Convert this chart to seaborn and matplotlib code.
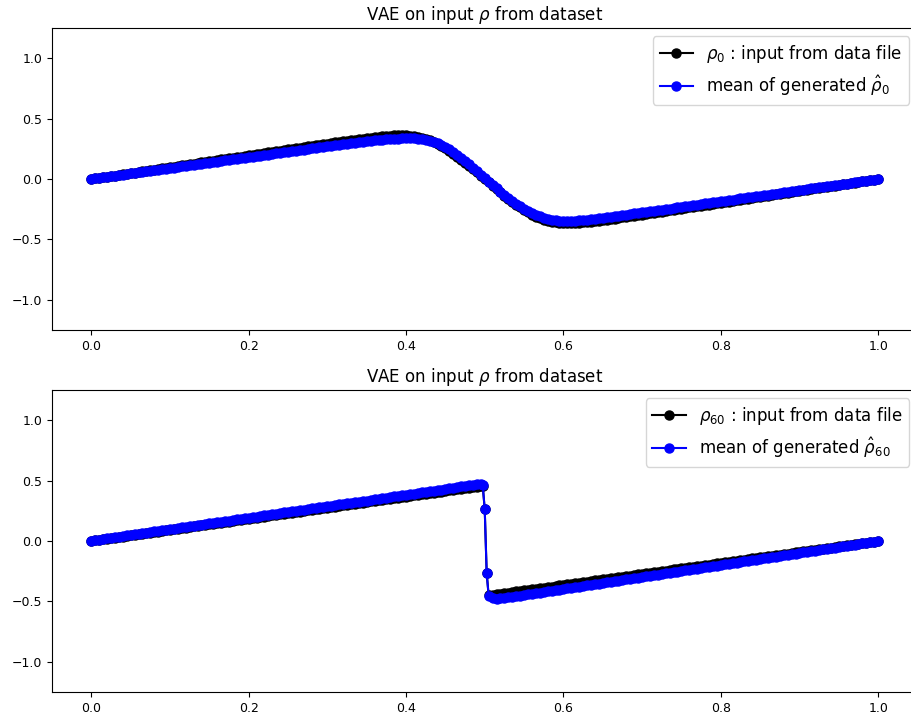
import matplotlib
matplotlib.use('Agg')
import matplotlib.pyplot as plt
import seaborn as sns

## Data (x grid, input rho, mean of generated rho)
x_top = [
    0.000, 0.005, 0.010, 0.015, 0.020, 0.025, 0.030, 0.035, 0.040, 0.045,
    0.050, 0.055, 0.060, 0.065, 0.070, 0.075, 0.080, 0.085, 0.090, 0.095,
    0.100, 0.105, 0.110, 0.115, 0.120, 0.125, 0.130, 0.135, 0.140, 0.145,
    0.150, 0.155, 0.160, 0.165, 0.170, 0.175, 0.180, 0.185, 0.190, 0.195,
    0.200, 0.205, 0.210, 0.215, 0.220, 0.225, 0.230, 0.235, 0.240, 0.245,
    0.250, 0.255, 0.260, 0.265, 0.270, 0.275, 0.280, 0.285, 0.290, 0.295,
    0.300, 0.305, 0.310, 0.315, 0.320, 0.325, 0.330, 0.335, 0.340, 0.345,
    0.350, 0.355, 0.360, 0.365, 0.370, 0.375, 0.380, 0.385, 0.390, 0.395,
    0.400, 0.405, 0.410, 0.415, 0.420, 0.425, 0.430, 0.435, 0.440, 0.445,
    0.450, 0.455, 0.460, 0.465, 0.470, 0.475, 0.480, 0.485, 0.490, 0.495,
    0.500, 0.505, 0.510, 0.515, 0.520, 0.525, 0.530, 0.535, 0.540, 0.545,
    0.550, 0.555, 0.560, 0.565, 0.570, 0.575, 0.580, 0.585, 0.590, 0.595,
    0.600, 0.605, 0.610, 0.615, 0.620, 0.625, 0.630, 0.635, 0.640, 0.645,
    0.650, 0.655, 0.660, 0.665, 0.670, 0.675, 0.680, 0.685, 0.690, 0.695,
    0.700, 0.705, 0.710, 0.715, 0.720, 0.725, 0.730, 0.735, 0.740, 0.745,
    0.750, 0.755, 0.760, 0.765, 0.770, 0.775, 0.780, 0.785, 0.790, 0.795,
    0.800, 0.805, 0.810, 0.815, 0.820, 0.825, 0.830, 0.835, 0.840, 0.845,
    0.850, 0.855, 0.860, 0.865, 0.870, 0.875, 0.880, 0.885, 0.890, 0.895,
    0.900, 0.905, 0.910, 0.915, 0.920, 0.925, 0.930, 0.935, 0.940, 0.945,
    0.950, 0.955, 0.960, 0.965, 0.970, 0.975, 0.980, 0.985, 0.990, 0.995,
    1.000]

rho0_input = [
    0.000, 0.005, 0.010, 0.015, 0.020, 0.025, 0.029, 0.034, 0.039, 0.044,
    0.049, 0.054, 0.059, 0.064, 0.069, 0.074, 0.078, 0.083, 0.088, 0.093,
    0.098, 0.103, 0.108, 0.113, 0.118, 0.123, 0.127, 0.132, 0.137, 0.142,
    0.147, 0.152, 0.157, 0.162, 0.167, 0.172, 0.176, 0.181, 0.186, 0.191,
    0.196, 0.201, 0.206, 0.211, 0.216, 0.221, 0.225, 0.230, 0.235, 0.240,
    0.245, 0.250, 0.255, 0.260, 0.265, 0.270, 0.274, 0.279, 0.284, 0.289,
    0.294, 0.299, 0.304, 0.309, 0.313, 0.318, 0.322, 0.327, 0.331, 0.335,
    0.339, 0.343, 0.347, 0.350, 0.353, 0.356, 0.359, 0.361, 0.362, 0.362,
    0.361, 0.359, 0.355, 0.350, 0.343, 0.334, 0.322, 0.308, 0.292, 0.274,
    0.254, 0.233, 0.210, 0.186, 0.161, 0.136, 0.110, 0.083, 0.056, 0.028,
    0.000, -0.028, -0.056, -0.083, -0.110, -0.137, -0.162, -0.187, -0.211, -0.234,
    -0.256, -0.276, -0.294, -0.311, -0.325, -0.337, -0.347, -0.354, -0.359, -0.363,
    -0.365, -0.365, -0.364, -0.362, -0.360, -0.358, -0.355, -0.352, -0.349, -0.346,
    -0.342, -0.338, -0.333, -0.328, -0.323, -0.318, -0.314, -0.309, -0.304, -0.299,
    -0.294, -0.289, -0.284, -0.279, -0.274, -0.270, -0.265, -0.260, -0.255, -0.250,
    -0.245, -0.240, -0.235, -0.230, -0.225, -0.221, -0.216, -0.211, -0.206, -0.201,
    -0.196, -0.191, -0.186, -0.181, -0.176, -0.172, -0.167, -0.162, -0.157, -0.152,
    -0.147, -0.142, -0.137, -0.132, -0.127, -0.123, -0.118, -0.113, -0.108, -0.103,
    -0.098, -0.093, -0.088, -0.083, -0.078, -0.074, -0.069, -0.064, -0.059, -0.054,
    -0.049, -0.044, -0.039, -0.034, -0.029, -0.025, -0.020, -0.015, -0.010, -0.005,
    0.000]

rho0_generated = [
    0.002, 0.006, 0.010, 0.014, 0.019, 0.023, 0.028, 0.032, 0.037, 0.041,
    0.046, 0.050, 0.055, 0.059, 0.064, 0.068, 0.073, 0.077, 0.082, 0.086,
    0.091, 0.095, 0.100, 0.104, 0.109, 0.113, 0.118, 0.122, 0.127, 0.131,
    0.136, 0.140, 0.145, 0.149, 0.154, 0.158, 0.163, 0.167, 0.172, 0.176,
    0.181, 0.185, 0.190, 0.194, 0.199, 0.203, 0.208, 0.212, 0.217, 0.221,
    0.226, 0.230, 0.235, 0.239, 0.244, 0.248, 0.253, 0.257, 0.262, 0.266,
    0.271, 0.275, 0.280, 0.284, 0.288, 0.292, 0.296, 0.300, 0.304, 0.308,
    0.312, 0.315, 0.319, 0.322, 0.325, 0.328, 0.331, 0.333, 0.335, 0.337,
    0.338, 0.338, 0.337, 0.335, 0.331, 0.325, 0.317, 0.307, 0.295, 0.281,
    0.265, 0.246, 0.225, 0.202, 0.177, 0.150, 0.123, 0.095, 0.066, 0.037,
    0.008, -0.021, -0.050, -0.078, -0.105, -0.131, -0.156, -0.180, -0.203, -0.225,
    -0.245, -0.264, -0.281, -0.296, -0.309, -0.320, -0.329, -0.336, -0.341, -0.344,
    -0.346, -0.346, -0.345, -0.344, -0.342, -0.339, -0.336, -0.333, -0.330, -0.326,
    -0.322, -0.317, -0.313, -0.308, -0.304, -0.299, -0.294, -0.290, -0.285, -0.281,
    -0.276, -0.271, -0.267, -0.262, -0.258, -0.253, -0.248, -0.244, -0.239, -0.235,
    -0.230, -0.225, -0.221, -0.216, -0.212, -0.207, -0.202, -0.198, -0.193, -0.189,
    -0.184, -0.179, -0.175, -0.170, -0.166, -0.161, -0.156, -0.152, -0.147, -0.143,
    -0.138, -0.133, -0.129, -0.124, -0.120, -0.115, -0.110, -0.106, -0.101, -0.097,
    -0.092, -0.087, -0.083, -0.078, -0.074, -0.069, -0.064, -0.060, -0.055, -0.051,
    -0.046, -0.041, -0.037, -0.032, -0.028, -0.023, -0.018, -0.014, -0.009, -0.005,
    0.000]

x_bot = [
    0.000, 0.005, 0.010, 0.015, 0.020, 0.025, 0.030, 0.035, 0.040, 0.045,
    0.050, 0.055, 0.060, 0.065, 0.070, 0.075, 0.080, 0.085, 0.090, 0.095,
    0.100, 0.105, 0.110, 0.115, 0.120, 0.125, 0.130, 0.135, 0.140, 0.145,
    0.150, 0.155, 0.160, 0.165, 0.170, 0.175, 0.180, 0.185, 0.190, 0.195,
    0.200, 0.205, 0.210, 0.215, 0.220, 0.225, 0.230, 0.235, 0.240, 0.245,
    0.250, 0.255, 0.260, 0.265, 0.270, 0.275, 0.280, 0.285, 0.290, 0.295,
    0.300, 0.305, 0.310, 0.315, 0.320, 0.325, 0.330, 0.335, 0.340, 0.345,
    0.350, 0.355, 0.360, 0.365, 0.370, 0.375, 0.380, 0.385, 0.390, 0.395,
    0.400, 0.405, 0.410, 0.415, 0.420, 0.425, 0.430, 0.435, 0.440, 0.445,
    0.450, 0.455, 0.460, 0.465, 0.470, 0.475, 0.480, 0.485, 0.490, 0.495, 0.4975,
    0.500, 0.5025, 0.505, 0.510, 0.515, 0.520, 0.525, 0.530, 0.535, 0.540, 0.545,
    0.550, 0.555, 0.560, 0.565, 0.570, 0.575, 0.580, 0.585, 0.590, 0.595,
    0.600, 0.605, 0.610, 0.615, 0.620, 0.625, 0.630, 0.635, 0.640, 0.645,
    0.650, 0.655, 0.660, 0.665, 0.670, 0.675, 0.680, 0.685, 0.690, 0.695,
    0.700, 0.705, 0.710, 0.715, 0.720, 0.725, 0.730, 0.735, 0.740, 0.745,
    0.750, 0.755, 0.760, 0.765, 0.770, 0.775, 0.780, 0.785, 0.790, 0.795,
    0.800, 0.805, 0.810, 0.815, 0.820, 0.825, 0.830, 0.835, 0.840, 0.845,
    0.850, 0.855, 0.860, 0.865, 0.870, 0.875, 0.880, 0.885, 0.890, 0.895,
    0.900, 0.905, 0.910, 0.915, 0.920, 0.925, 0.930, 0.935, 0.940, 0.945,
    0.950, 0.955, 0.960, 0.965, 0.970, 0.975, 0.980, 0.985, 0.990, 0.995,
    1.000]

rho60_input = [
    0.000, 0.005, 0.009, 0.014, 0.018, 0.023, 0.028, 0.032, 0.037, 0.041,
    0.046, 0.051, 0.055, 0.060, 0.064, 0.069, 0.074, 0.078, 0.083, 0.087,
    0.092, 0.097, 0.101, 0.106, 0.110, 0.115, 0.120, 0.124, 0.129, 0.133,
    0.138, 0.143, 0.147, 0.152, 0.156, 0.161, 0.166, 0.170, 0.175, 0.179,
    0.184, 0.189, 0.193, 0.198, 0.202, 0.207, 0.212, 0.216, 0.221, 0.225,
    0.230, 0.235, 0.239, 0.244, 0.248, 0.253, 0.258, 0.262, 0.267, 0.271,
    0.276, 0.281, 0.285, 0.290, 0.294, 0.299, 0.304, 0.308, 0.313, 0.317,
    0.322, 0.327, 0.331, 0.336, 0.340, 0.345, 0.350, 0.354, 0.359, 0.363,
    0.368, 0.373, 0.377, 0.382, 0.386, 0.391, 0.396, 0.400, 0.405, 0.409,
    0.414, 0.419, 0.423, 0.428, 0.432, 0.437, 0.441, 0.445, 0.449, 0.452, 0.453,
    0.262, -0.268, -0.450, -0.445, -0.441, -0.436, -0.432, -0.427, -0.423, -0.418, -0.414,
    -0.409, -0.405, -0.400, -0.395, -0.391, -0.386, -0.382, -0.377, -0.373, -0.368,
    -0.364, -0.359, -0.355, -0.350, -0.345, -0.341, -0.336, -0.332, -0.327, -0.323,
    -0.318, -0.314, -0.309, -0.305, -0.300, -0.295, -0.291, -0.286, -0.282, -0.277,
    -0.273, -0.268, -0.264, -0.259, -0.255, -0.250, -0.245, -0.241, -0.236, -0.232,
    -0.227, -0.223, -0.218, -0.214, -0.209, -0.205, -0.200, -0.195, -0.191, -0.186,
    -0.182, -0.177, -0.173, -0.168, -0.164, -0.159, -0.155, -0.150, -0.145, -0.141,
    -0.136, -0.132, -0.127, -0.123, -0.118, -0.114, -0.109, -0.105, -0.100, -0.095,
    -0.091, -0.086, -0.082, -0.077, -0.073, -0.068, -0.064, -0.059, -0.055, -0.050,
    -0.045, -0.041, -0.036, -0.032, -0.027, -0.023, -0.018, -0.014, -0.009, -0.005,
    0.000]

rho60_generated = [
    0.003, 0.008, 0.012, 0.017, 0.022, 0.027, 0.031, 0.036, 0.041, 0.046,
    0.050, 0.055, 0.060, 0.065, 0.069, 0.074, 0.079, 0.084, 0.088, 0.093,
    0.098, 0.103, 0.107, 0.112, 0.117, 0.122, 0.126, 0.131, 0.136, 0.141,
    0.145, 0.150, 0.155, 0.160, 0.164, 0.169, 0.174, 0.179, 0.183, 0.188,
    0.193, 0.198, 0.202, 0.207, 0.212, 0.217, 0.221, 0.226, 0.231, 0.236,
    0.240, 0.245, 0.250, 0.255, 0.259, 0.264, 0.269, 0.274, 0.278, 0.283,
    0.288, 0.293, 0.297, 0.302, 0.307, 0.312, 0.316, 0.321, 0.326, 0.331,
    0.335, 0.340, 0.345, 0.350, 0.354, 0.359, 0.364, 0.369, 0.373, 0.378,
    0.383, 0.388, 0.392, 0.397, 0.402, 0.407, 0.411, 0.416, 0.421, 0.426,
    0.430, 0.435, 0.440, 0.446, 0.452, 0.458, 0.463, 0.467, 0.468, 0.468, 0.460,
    0.262, -0.268, -0.455, -0.474, -0.478, -0.476, -0.472, -0.467, -0.462, -0.457, -0.452,
    -0.447, -0.442, -0.437, -0.432, -0.427, -0.422, -0.417, -0.412, -0.408, -0.403,
    -0.398, -0.393, -0.388, -0.383, -0.378, -0.373, -0.368, -0.363, -0.358, -0.353,
    -0.348, -0.343, -0.338, -0.333, -0.328, -0.323, -0.318, -0.313, -0.308, -0.303,
    -0.298, -0.293, -0.288, -0.283, -0.278, -0.273, -0.268, -0.263, -0.258, -0.253,
    -0.249, -0.244, -0.239, -0.234, -0.229, -0.224, -0.219, -0.214, -0.209, -0.204,
    -0.199, -0.194, -0.189, -0.184, -0.179, -0.174, -0.169, -0.164, -0.159, -0.154,
    -0.149, -0.144, -0.139, -0.134, -0.129, -0.124, -0.119, -0.114, -0.109, -0.104,
    -0.099, -0.094, -0.089, -0.085, -0.080, -0.075, -0.070, -0.065, -0.060, -0.055,
    -0.050, -0.045, -0.040, -0.035, -0.030, -0.025, -0.020, -0.015, -0.010, -0.005,
    0.000]

panels = [
    (x_top, rho0_input, rho0_generated, r'$\rho_0$ : input from data file',
     r'mean of generated $\hat{\rho}_0$'),
    (x_bot, rho60_input, rho60_generated, r'$\rho_{60}$ : input from data file',
     r'mean of generated $\hat{\rho}_{60}$'),
]

## Plotting
fig = plt.figure(figsize=(9.12, 7.17), dpi=100)
ax_top = fig.add_axes([0.057, 0.5397, 0.949, 0.4212])
ax_bot = fig.add_axes([0.057, 0.0349, 0.949, 0.4212])

for ax, (x, y_in, y_gen, lab_in, lab_gen) in zip([ax_top, ax_bot], panels):
    sns.lineplot(x=x, y=y_in, ax=ax, color='black', marker='o', markersize=6.5,
                 markeredgecolor='black', markeredgewidth=1, linewidth=1.5,
                 estimator=None, label=lab_in)
    sns.lineplot(x=x, y=y_gen, ax=ax, color='blue', marker='o', markersize=6.5,
                 markeredgecolor='blue', markeredgewidth=1, linewidth=1.5,
                 estimator=None, label=lab_gen)
    ax.set_xlim(-0.05, 1.05)
    ax.set_ylim(-1.25, 1.25)
    ax.set_xticks([0.0, 0.2, 0.4, 0.6, 0.8, 1.0])
    ax.set_yticks([-1.0, -0.5, 0.0, 0.5, 1.0])
    ax.tick_params(labelsize=9)
    ax.set_xlabel('')
    ax.set_ylabel('')
    ax.set_title(r'VAE on input $\rho$ from dataset', fontsize=12)
    ax.legend(loc='upper right', fontsize=12)

plt.savefig('out.png', dpi=100)
plt.close()
